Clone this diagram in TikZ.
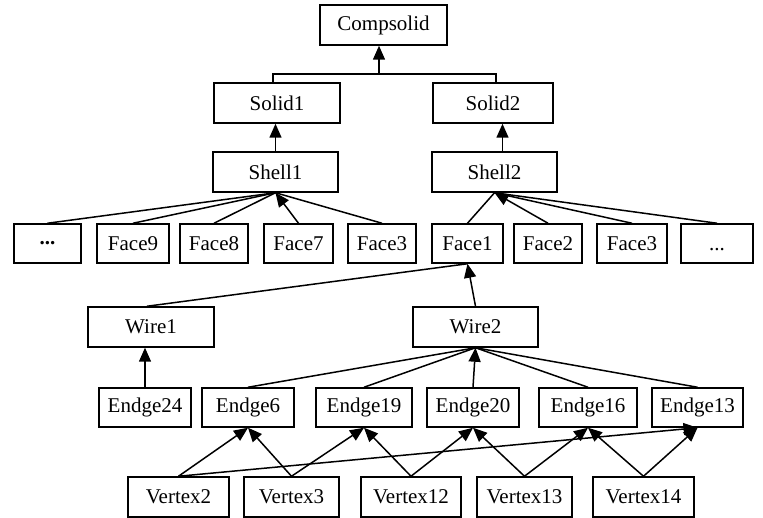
\documentclass[tikz,border=0pt]{standalone}
\usepackage{fontspec}
\setmainfont{Liberation Serif}
\usetikzlibrary{arrows.meta}
\begin{document}
\begin{tikzpicture}[x=1pt,y=-1pt,
  box/.style={draw, line width=1.5pt, minimum height=40pt, inner sep=0pt,
    font=\fontsize{21}{23}\selectfont, anchor=center},
  ln/.style={line width=1.5pt},
  arr/.style={line width=1.5pt, -{Triangle[length=14pt,width=12pt]}}]
\useasboundingbox (0,0) rectangle (763,518);
% top levels
\node[box, minimum width=127pt] (cs) at (383.5,25) {Compsolid};
\node[box, minimum width=126pt] (so1) at (277,103) {Solid1};
\node[box, minimum width=120pt] (so2) at (493,103) {Solid2};
\node[box, minimum width=125pt] (sh1) at (275.5,172) {Shell1};
\node[box, minimum width=125pt] (sh2) at (494.5,172) {Shell2};
% faces
\node[box, minimum width=67pt, minimum height=39pt] (fl) at (47.5,243.5) {\textbf{...}};
\node[box, minimum width=72pt, minimum height=39pt] (f9) at (133,243.5) {Face9};
\node[box, minimum width=68pt, minimum height=39pt] (f8) at (214,243.5) {Face8};
\node[box, minimum width=69pt, minimum height=39pt] (f7) at (298.5,243.5) {Face7};
\node[box, minimum width=68pt, minimum height=39pt] (f3a) at (382,243.5) {Face3};
\node[box, minimum width=71pt, minimum height=39pt] (f1) at (467.5,243.5) {Face1};
\node[box, minimum width=68pt, minimum height=39pt] (f2) at (548,243.5) {Face2};
\node[box, minimum width=70pt, minimum height=39pt] (f3b) at (632,243.5) {Face3};
\node[box, minimum width=72pt, minimum height=39pt] (fr) at (717,243.5) {\vphantom{Face9}...};
% wires
\node[box, minimum width=126pt] (w1) at (151,327) {Wire1};
\node[box, minimum width=125pt] (w2) at (475.5,327) {Wire2};
% edges
\node[box, minimum width=92pt, minimum height=39pt] (e24) at (145,407.5) {Endge24};
\node[box, minimum width=92pt, minimum height=39pt] (e6) at (248,407.5) {Endge6};
\node[box, minimum width=96pt, minimum height=39pt] (e19) at (364,407.5) {Endge19};
\node[box, minimum width=92pt, minimum height=39pt] (e20) at (473,407.5) {Endge20};
\node[box, minimum width=98pt, minimum height=39pt] (e16) at (588,407.5) {Endge16};
\node[box, minimum width=91pt, minimum height=39pt] (e13) at (697.5,407.5) {Endge13};
% vertices
\node[box, minimum width=101pt] (v2) at (178.5,497) {Vertex2};
\node[box, minimum width=95pt] (v3) at (291.5,497) {Vertex3};
\node[box, minimum width=100pt] (v12) at (411,497) {Vertex12};
\node[box, minimum width=95pt] (v13) at (524.5,497) {Vertex13};
\node[box, minimum width=101pt] (v14) at (643.5,497) {Vertex14};
% solids to compsolid
\coordinate (jn) at (379,74);
\draw[ln] ([xshift=-4pt]so1.north) |- (jn) -| ([xshift=3pt]so2.north);
\draw[arr] (jn) -- (jn |- cs.south);
% shells to solids
\draw[arr] (sh1.north) -- (sh1.north |- so1.south);
\draw[arr] ([xshift=8pt]sh2.north) -- ([xshift=8pt]sh2.north |- so2.south);
% faces to shell1
\draw[ln] (fl.north) -- (sh1.south);
\draw[ln] (f9.north) -- (sh1.south);
\draw[ln] (f8.north) -- (sh1.south);
\draw[arr] (f7.north) -- (sh1.south);
\draw[ln] (f3a.north) -- (sh1.south);
% faces to shell2
\draw[ln] (f1.north) -- (sh2.south);
\draw[arr] (f2.north) -- (sh2.south);
\draw[ln] (f3b.north) -- (sh2.south);
\draw[ln] (fr.north) -- (sh2.south);
% wires to face1
\draw[ln] ([xshift=-4pt]w1.north) -- (f1.south);
\draw[arr] (w2.north) -- (f1.south);
% edges to wires
\draw[arr] (e24.north) -- (e24.north |- w1.south);
\draw[ln] (e6.north) -- (w2.south);
\draw[ln] (e19.north) -- (w2.south);
\draw[arr] (e20.north) -- (w2.south);
\draw[ln] (e16.north) -- (w2.south);
\draw[ln] (e13.north) -- (w2.south);
% vertices to edges
\draw[arr] (v2.north) -- (e6.south);
\draw[arr] (v2.north) -- (e13.south);
\draw[arr] (v3.north) -- (e6.south);
\draw[arr] (v3.north) -- (e19.south);
\draw[arr] (v12.north) -- (e19.south);
\draw[arr] (v12.north) -- (e20.south);
\draw[arr] (v13.north) -- (e20.south);
\draw[arr] (v13.north) -- (e16.south);
\draw[arr] (v14.north) -- (e16.south);
\draw[arr] (v14.north) -- (e13.south);
\end{tikzpicture}
\end{document}
